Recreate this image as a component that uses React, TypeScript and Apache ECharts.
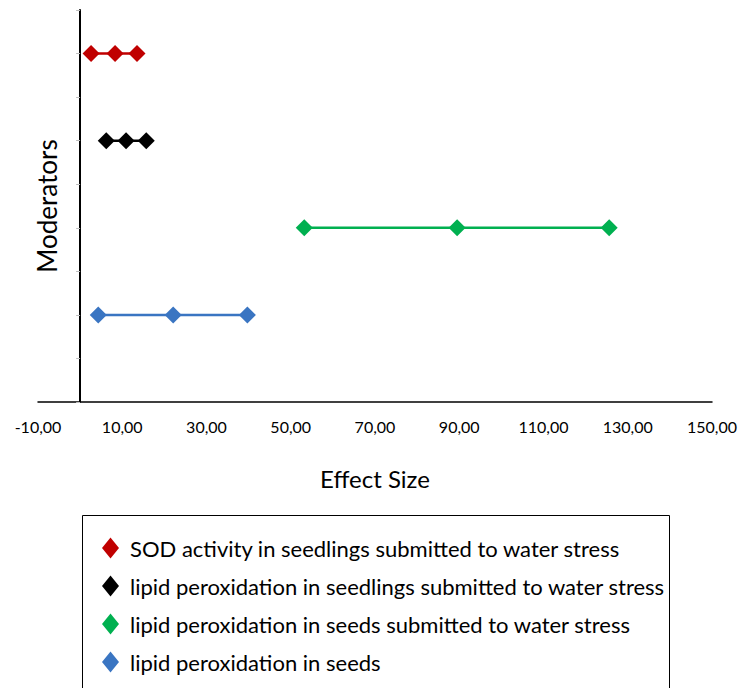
import React, { useEffect, useRef } from "react";
import * as echarts from "echarts";

const seriesNames = [
  "SOD activity in seedlings submitted to water stress",
  "lipid peroxidation in seedlings submitted to water stress",
  "lipid peroxidation in seeds submitted to water stress",
  "lipid peroxidation in seeds",
];
const seriesColors = ["#C00000", "#000000", "#00B050", "#3A75C2"];
const sodX = [2.6, 8.3, 13.5];
const lipidSeedlingsX = [6.2, 10.9, 15.7];
const lipidSeedsStressX = [53.2, 89.5, 125.6];
const lipidSeedsX = [4.3, 22.1, 39.7];
const rowLevels = [8, 6, 4, 2];
const xTicks = [-10, 10, 30, 50, 70, 90, 110, 130, 150];

const FONT = "Lato";

export default function App() {
  const ref = useRef<HTMLDivElement>(null);
  useEffect(() => {
    if (!ref.current) return;
    const chart = echarts.init(ref.current, null, { renderer: "svg" });
    const xs = [sodX, lipidSeedlingsX, lipidSeedsStressX, lipidSeedsX];
    const series = xs.map((vals, i) => ({
      name: seriesNames[i],
      type: "line",
      data: vals.map((v) => [v, rowLevels[i]]),
      symbol: "diamond",
      symbolSize: 17,
      showSymbol: true,
      lineStyle: { color: seriesColors[i], width: 2.5 },
      itemStyle: { color: seriesColors[i] },
      z: 3,
    }));
    chart.setOption({
      animation: false,
      backgroundColor: "#ffffff",
      textStyle: { fontFamily: FONT },
      grid: { left: 38, right: 28, top: 10, bottom: 286, containLabel: false },
      xAxis: {
        type: "value",
        min: -10,
        max: 150,
        interval: 20,
        axisLine: { show: true, onZero: false, lineStyle: { color: "#000", width: 1.5 } },
        axisTick: { show: false },
        splitLine: { show: false },
        axisLabel: {
          color: "#000",
          fontSize: 16,
          fontFamily: FONT,
          margin: 16,
          formatter: (v: number) => (xTicks.includes(v) ? v.toFixed(2).replace(".", ",") : ""),
        },
        name: "Effect Size",
        nameLocation: "middle",
        nameGap: 64,
        nameTextStyle: { color: "#000", fontSize: 24, fontFamily: FONT },
      },
      yAxis: {
        type: "value",
        min: 0,
        max: 9,
        interval: 1,
        axisLine: { show: true, onZero: true, lineStyle: { color: "#000", width: 2 } },
        axisTick: { show: true, inside: false, length: 4, lineStyle: { color: "#bbbbbb", width: 1 } },
        splitLine: { show: false },
        axisLabel: { show: false },
      },
      legend: {
        show: true,
        orient: "vertical",
        left: 102,
        top: 537,
        padding: 0,
        itemWidth: 17,
        itemHeight: 21,
        itemGap: 16,
        icon: "diamond",
        textStyle: {
          color: "#000",
          fontSize: 22,
          lineHeight: 21,
          fontFamily: FONT,
          padding: [0, 0, 0, 6],
        },
        data: seriesNames.map((n, i) => ({ name: n, itemStyle: { color: seriesColors[i] } })),
      },
      graphic: [
        {
          type: "rect",
          shape: { x: 82.5, y: 515.5, width: 587, height: 200 },
          style: { fill: "none", stroke: "#000", lineWidth: 1 },
          silent: true,
        },
        {
          type: "text",
          x: 47,
          y: 206,
          rotation: Math.PI / 2,
          style: {
            text: "Moderators",
            fill: "#000",
            font: `26px ${FONT}`,
            align: "center",
            verticalAlign: "middle",
          },
        },
      ],
      series,
    });
    return () => chart.dispose();
  }, []);
  return (
    <div
      ref={ref}
      style={{ width: 740, height: 688, position: "absolute", left: 0, top: 0 }}
    />
  );
}
